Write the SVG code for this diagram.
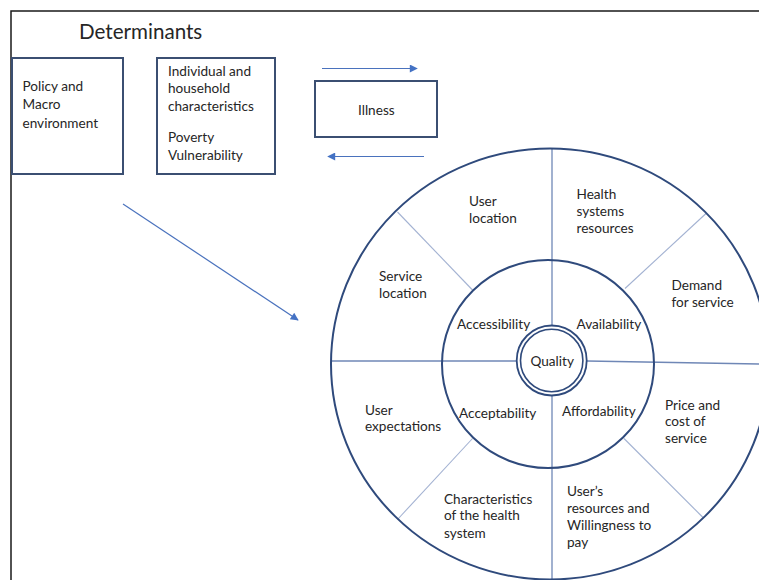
<svg xmlns="http://www.w3.org/2000/svg" width="759" height="580" viewBox="0 0 759 580">
  <style>
    .t { font-family: Lato, "Liberation Sans", sans-serif; font-size: 13.6px; fill: #262626; }
    .title { font-size: 20.6px; }
    .box { fill: #ffffff; stroke: #3b4f72; stroke-width: 2; }
    .ring { fill: none; stroke: #2f4a7c; stroke-width: 2; }
    .spoke { stroke: #6f87b6; stroke-width: 1.3; fill: none; }
    .diag { stroke: #a3b2d2; stroke-width: 1.1; fill: none; }
    .arrow { stroke: #4a72bd; stroke-width: 1.2; fill: none; marker-end: url(#head); }
  </style>
  <defs>
    <marker id="head" viewBox="0 0 10 10" refX="9" refY="5" markerWidth="10" markerHeight="8" markerUnits="userSpaceOnUse" orient="auto">
      <path d="M0,0 L10,5 L0,10 Z" fill="#4472c4"/>
    </marker>
  </defs>

  <rect width="759" height="580" fill="#ffffff"/>
  <!-- page frame (top and left edges) -->
  <path d="M11,580 L11,11 L759,11" fill="none" stroke="#1a1a1a" stroke-width="1.5"/>

  <text class="t title" x="79" y="39">Determinants</text>

  <g id="policy">
    <rect class="box" x="12" y="58" width="111" height="116"/>
    <text class="t" x="22.5" y="91">Policy and</text>
    <text class="t" x="22.5" y="109">Macro</text>
    <text class="t" x="22.5" y="128">environment</text>
  </g>

  <g id="individual">
    <rect class="box" x="157" y="58" width="118" height="116"/>
    <text class="t" x="168" y="75.5">Individual and</text>
    <text class="t" x="168" y="93">household</text>
    <text class="t" x="168" y="110.5">characteristics</text>
    <text class="t" x="168" y="141.5">Poverty</text>
    <text class="t" x="168" y="160">Vulnerability</text>
  </g>

  <g id="illness">
    <rect class="box" x="315" y="81" width="122" height="56"/>
    <text class="t" x="358" y="114.5">Illness</text>
  </g>

  <g id="connectors">
    <line class="arrow" x1="322" y1="68.5" x2="417" y2="68.5"/>
    <line class="arrow" x1="424" y1="156.5" x2="328" y2="156.5"/>
    <line class="arrow" x1="123" y1="204" x2="298" y2="320"/>
  </g>

  <g id="wheel">
    <!-- spokes -->
    <line class="spoke" x1="552" y1="148" x2="552" y2="325"/>
    <line class="spoke" x1="552" y1="396" x2="552" y2="580"/>
    <line class="spoke" x1="332" y1="361" x2="516" y2="361"/>
    <line class="spoke" x1="587" y1="361" x2="759" y2="364"/>
    <line class="diag" x1="397.5" y1="212" x2="472.5" y2="290"/>
    <line class="diag" x1="706" y1="213.5" x2="625" y2="288.5"/>
    <line class="diag" x1="472.5" y1="438.5" x2="397.5" y2="519.5"/>
    <line class="diag" x1="624" y1="438.5" x2="703.5" y2="518"/>
    <!-- rings -->
    <ellipse class="ring" cx="550" cy="364" rx="219" ry="215.5"/>
    <ellipse class="ring" cx="548" cy="364" rx="106" ry="104"/>
  </g>

  <g id="quality">
    <circle cx="551.7" cy="360.5" r="35" fill="#ffffff" stroke="#2f4a7c" stroke-width="1.8"/>
    <circle cx="551.7" cy="360.5" r="31.2" fill="none" stroke="#2f4a7c" stroke-width="1.6"/>
    <text class="t" x="530.5" y="366">Quality</text>
  </g>

  <g id="accessibility">
    <text class="t" x="457" y="328.5">Accessibility</text>
  </g>
  <g id="availability">
    <text class="t" x="576.5" y="328.5">Availability</text>
  </g>
  <g id="acceptability">
    <text class="t" x="459" y="417.5">Acceptability</text>
  </g>
  <g id="affordability">
    <text class="t" x="562" y="415.5">Affordability</text>
  </g>

  <g id="user-location">
    <text class="t" x="469" y="206">User</text>
    <text class="t" x="469" y="223">location</text>
  </g>
  <g id="health-resources">
    <text class="t" x="576.5" y="199">Health</text>
    <text class="t" x="576.5" y="216">systems</text>
    <text class="t" x="576.5" y="233">resources</text>
  </g>
  <g id="service-location">
    <text class="t" x="379" y="281">Service</text>
    <text class="t" x="379" y="297.5">location</text>
  </g>
  <g id="demand">
    <text class="t" x="671.5" y="290">Demand</text>
    <text class="t" x="671.5" y="307">for service</text>
  </g>
  <g id="user-expectations">
    <text class="t" x="365" y="414.5">User</text>
    <text class="t" x="365" y="431">expectations</text>
  </g>
  <g id="price">
    <text class="t" x="665" y="409.5">Price and</text>
    <text class="t" x="665" y="426">cost of</text>
    <text class="t" x="665" y="443">service</text>
  </g>
  <g id="health-characteristics">
    <text class="t" x="444" y="503.5">Characteristics</text>
    <text class="t" x="444" y="520">of the health</text>
    <text class="t" x="444" y="537.5">system</text>
  </g>
  <g id="user-resources">
    <text class="t" x="567" y="495.5">User’s</text>
    <text class="t" x="567" y="512.5">resources and</text>
    <text class="t" x="567" y="529.5">Willingness to</text>
    <text class="t" x="567" y="546.5">pay</text>
  </g>
</svg>
